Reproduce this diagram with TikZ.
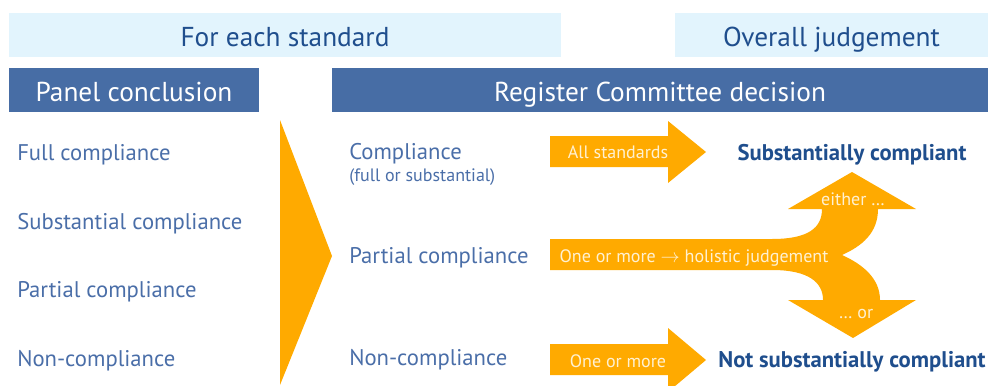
\documentclass[tikz,border=0pt]{standalone}
\usepackage{fontspec}
\setmainfont{PT Sans}
\usetikzlibrary{positioning}
\definecolor{lightband}{HTML}{E2F4FD}
\definecolor{headblue}{HTML}{476DA5}
\definecolor{darkblue}{HTML}{1F4E8D}
\definecolor{midblue}{HTML}{4A6EA8}
\definecolor{amber}{HTML}{FFAA00}
\definecolor{cream}{HTML}{FFF1D2}
\tikzstyle{band} = [rectangle, fill=lightband, minimum height=33pt, inner sep=0pt, text height=18pt, text depth=1.5pt, text=darkblue, font=\fontsize{20.5}{24}\selectfont]
\tikzstyle{header} = [rectangle, fill=headblue, minimum height=33pt, inner sep=0pt, text height=18pt, text depth=1.5pt, text=white, font=\fontsize{20.5}{24}\selectfont]
\tikzstyle{itemtext} = [anchor=base west, inner sep=0pt, text=midblue, font=\fontsize{17}{20}\selectfont]
\tikzstyle{smallnote} = [anchor=base west, inner sep=0pt, text=midblue, font=\fontsize{13.5}{16}\selectfont]
\tikzstyle{onarrow} = [anchor=base, inner sep=0pt, text=cream, font=\fontsize{13.5}{16}\selectfont]
\tikzstyle{verdict} = [anchor=base, inner sep=0pt, text=darkblue, font=\bfseries\fontsize{17}{21}\selectfont]

\begin{document}
\begin{tikzpicture}[x=0.75pt, y=-0.75pt]
    \useasboundingbox (0,0) rectangle (991,385);

    % Bands and headers
    \node (eachstd) [band, minimum width=414pt] at (285,35) {For each standard};
    \node (overall) [band, minimum width=234.75pt] at (831.5,35) {Overall judgement};
    \node (panel) [header, minimum width=187.5pt] at (134,90) {Panel conclusion};
    \node (register) [header, minimum width=492pt] at (660,90) {Register Committee decision};

    % Orange shapes
    \fill [amber] (280,120) -- (332,256) -- (280,385) -- cycle;
    \fill [amber] (550,136) -- (668,136) -- (668,121) -- (706,152) -- (668,183) -- (668,167) -- (550,167) -- cycle;
    \fill [amber] (550,344) -- (668,344) -- (668,328) -- (706,360) -- (668,392) -- (668,375) -- (550,375) -- cycle;
    \fill [amber] (550,239) -- (772,239) .. controls (808,239) and (822,228) .. (822,209)
        -- (788,209) -- (852,172) -- (916,209) -- (878,209)
        .. controls (878,233) and (862,246) .. (842,255)
        .. controls (862,264) and (880,278) .. (880,300)
        -- (916,300) -- (853,338) -- (788,300) -- (823,300)
        .. controls (823,282) and (808,270) .. (772,270) -- (550,270) -- cycle;

    % Panel conclusions
    \node (full) [itemtext] at (17,160) {Full compliance};
    \node (subst) [itemtext] at (17,229) {Substantial compliance};
    \node (partial) [itemtext] at (17,297) {Partial compliance};
    \node (noncomp) [itemtext] at (17,366) {Non-compliance};

    % Committee decisions
    \node (compl) [itemtext] at (349,159) {Compliance};
    \node (fullsub) [smallnote] at (349,181) {(full or substantial)};
    \node (partdec) [itemtext] at (349,263) {Partial compliance};
    \node (nondec) [itemtext] at (349,365) {Non-compliance};

    % Arrow texts
    \node (allstd) [onarrow] at (618,158) {All standards};
    \node (holistic) [onarrow] at (694,262) {One or more $\rightarrow$ holistic judgement};
    \node (either) [onarrow] at (853,205) {either \dots};
    \node (orr) [onarrow] at (856,318) {\dots\ or};
    \node (oneormore) [onarrow] at (618,367) {One or more};

    % Judgements
    \node (substcomp) [verdict] at (852,160) {Substantially compliant};
    \node (notsubst) [verdict] at (852,367) {Not substantially compliant};

\end{tikzpicture}
\end{document}
